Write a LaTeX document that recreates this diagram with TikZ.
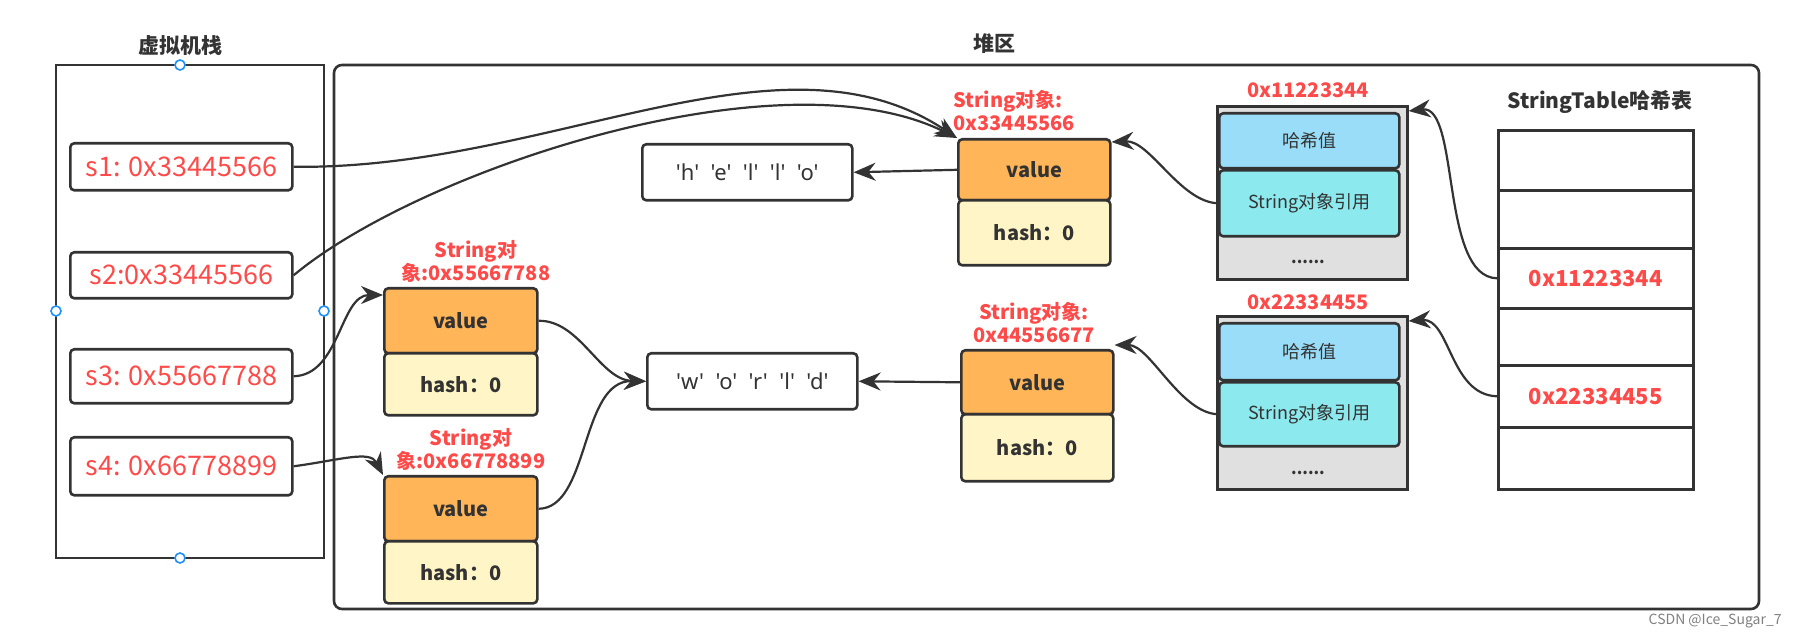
\documentclass[tikz,border=0pt]{standalone}
\usepackage{fontspec}
\setmainfont{Noto Sans CJK SC}
\newfontfamily\latinf{Noto Sans}
\usetikzlibrary{arrows.meta,positioning}
\definecolor{ink}{HTML}{333333}
\definecolor{redtxt}{HTML}{FF4A4A}
\definecolor{orangef}{HTML}{FFB558}
\definecolor{yellowf}{HTML}{FFF5C6}
\definecolor{bluef}{HTML}{99DDF8}
\definecolor{cyanf}{HTML}{8CE9EE}
\definecolor{grayf}{HTML}{E0E0E0}
\definecolor{handle}{HTML}{1E90FF}
\newcommand{\qc}[1]{\char39 #1\char39}
\tikzset{
  box/.style={draw=ink, line width=1.3pt, rounded corners=2pt, inner sep=0pt, anchor=north west},
  sval/.style={box, fill=white, text=redtxt, font=\fontsize{13.5}{15}\selectfont},
  cell/.style={box, font=\fontsize{10}{12}\selectfont\bfseries, text=ink},
  arrbox/.style={box, fill=white, text=ink, minimum width=105pt, minimum height=28pt, font=\latinf\fontsize{11}{13}\selectfont},
  lbl/.style={text=redtxt, font=\fontsize{10}{11.5}\selectfont\bfseries, inner sep=0pt, align=center},
  ttl/.style={text=ink, font=\fontsize{10.5}{12}\selectfont\bfseries, inner sep=0pt},
  arr/.style={draw=ink, line width=1.1pt, -{Stealth[length=11pt,width=9pt]}},
  hnd/.style={circle, draw=handle, fill=white, line width=0.8pt, minimum size=5pt, inner sep=0pt}
}
\begin{document}
\begin{tikzpicture}[x=0.5pt,y=-0.5pt]
\useasboundingbox (0,0) rectangle (1798,640);
% stack and heap frames
\draw[ink, line width=1.3pt] (56,65) rectangle (324,558);
\draw[ink, line width=1.3pt, rounded corners=4pt] (334,65) rectangle (1759,609);
\node[ttl] (tstack) at (180,46) {虚拟机栈};
\node[ttl] (theap) at (994,44) {堆区};
% stack slots
\node[sval, minimum width=111pt, minimum height=23.5pt] (s1) at (69,142) {s1: 0x33445566};
\node[sval, minimum width=111pt, minimum height=23pt] (s2) at (69,251) {s2:0x33445566};
\node[sval, minimum width=111pt, minimum height=27pt] (s3) at (69,348) {s3: 0x55667788};
\node[sval, minimum width=111pt, minimum height=29pt] (s4) at (69,436) {s4: 0x66778899};
% char arrays
\node[arrbox] (hello) at (641,143) {\qc{h}\ \ \qc{e}\ \ \qc{l}\ \ \qc{l}\ \ \qc{o}};
\node[arrbox] (world) at (646,352) {\qc{w}\ \ \qc{o}\ \ \qc{r}\ \ \qc{l}\ \ \qc{d}};
% string objects
\node[cell, fill=orangef, minimum width=76pt, minimum height=30.5pt] (v1) at (957,138) {value};
\node[cell, fill=yellowf, minimum width=76pt, minimum height=32.5pt] (h1) at (957,199) {hash：0};
\node[lbl, align=left, anchor=north west] (l1) at (953,90) {String对象:\\0x33445566};
\node[cell, fill=orangef, minimum width=76.5pt, minimum height=32.5pt] (v2) at (383,287) {value};
\node[cell, fill=yellowf, minimum width=76.5pt, minimum height=31pt] (h2) at (383,352) {hash：0};
\node[lbl] (l2) at (476,261) {String对\\象:0x55667788};
\node[cell, fill=orangef, minimum width=76.5pt, minimum height=32.5pt] (v3) at (383,475) {value};
\node[cell, fill=yellowf, minimum width=76.5pt, minimum height=31pt] (h3) at (383,540) {hash：0};
\node[lbl] (l3) at (471,449) {String对\\象:0x66778899};
\node[cell, fill=orangef, minimum width=76pt, minimum height=32pt] (v4) at (960,349) {value};
\node[cell, fill=yellowf, minimum width=76pt, minimum height=33.5pt] (h4) at (960,413) {hash：0};
\node[lbl] (l4) at (1034,323) {String对象:\\0x44556677};
% hash table entries
\node[box, fill=grayf, rounded corners=0pt, minimum width=95pt, minimum height=86.5pt] (e1) at (1216,105) {};
\node[cell, fill=bluef, minimum width=90pt, minimum height=27.5pt, font=\fontsize{9}{10}\selectfont] (k1) at (1218,112) {哈希值};
\node[cell, fill=cyanf, minimum width=90pt, minimum height=33pt, font=\fontsize{9}{10}\selectfont] (r1) at (1218,169) {String对象引用};
\node[text=ink, font=\fontsize{8}{9}\selectfont\bfseries, inner sep=0pt] (d1) at (1308,262) {......};
\node[lbl] (a1) at (1308,90) {0x11223344};
\node[box, fill=grayf, rounded corners=0pt, minimum width=95pt, minimum height=86.5pt] (e2) at (1216,315) {};
\node[cell, fill=bluef, minimum width=90pt, minimum height=28.5pt, font=\fontsize{9}{10}\selectfont] (k2) at (1218,322) {哈希值};
\node[cell, fill=cyanf, minimum width=90pt, minimum height=32pt, font=\fontsize{9}{10}\selectfont] (r2) at (1218,381) {String对象引用};
\node[text=ink, font=\fontsize{8}{9}\selectfont\bfseries, inner sep=0pt] (d2) at (1308,473) {......};
\node[lbl] (a2) at (1308,302) {0x22334455};
% string table
\node[ttl] (ttab) at (1600,102) {StringTable哈希表};
\node[box, rounded corners=0pt, fill=white, minimum width=97.5pt, minimum height=30pt] (t1) at (1497,129) {};
\node[box, rounded corners=0pt, fill=white, minimum width=97.5pt, minimum height=29pt] (t2) at (1497,189) {};
\node[box, rounded corners=0pt, fill=white, minimum width=97.5pt, minimum height=30pt, text=redtxt, font=\fontsize{11}{12}\selectfont\bfseries] (t3) at (1497,247) {0x11223344};
\node[box, rounded corners=0pt, fill=white, minimum width=97.5pt, minimum height=28.5pt] (t4) at (1497,307) {};
\node[box, rounded corners=0pt, fill=white, minimum width=97.5pt, minimum height=31pt, text=redtxt, font=\fontsize{11}{12}\selectfont\bfseries] (t5) at (1497,364) {0x22334455};
\node[box, rounded corners=0pt, fill=white, minimum width=97.5pt, minimum height=31pt] (t6) at (1497,426) {};
% references
\draw[arr] (s1.east) .. controls (550,170) and (780,20) .. (v1.north west);
\draw[arr] (s2.east) .. controls (420,170) and (780,50) .. (v1.north west);
\draw[arr] (s3.east) .. controls (340,375) and (340,295) .. ([yshift=-4pt]v2.north west);
\draw[arr] (s4.east) .. controls (340,460) and (370,450) .. (v3.north west);
\draw[arr] (v2.east) .. controls (580,320) and (600,380) .. (world.west);
\draw[arr] (v3.east) .. controls (590,508) and (580,380) .. (world.west);
\draw[arr] (v1.west) -- (hello.east);
\draw[arr] (v4.west) -- (world.east);
\draw[arr] (r1.west) .. controls (1180,202) and (1150,140) .. ([yshift=-2pt]v1.north east);
\draw[arr] (r2.west) .. controls (1180,413) and (1150,345) .. ([yshift=2pt]v4.north east);
\draw[arr] (t3.west) .. controls (1440,277) and (1460,105) .. ([yshift=-3pt]e1.north east);
\draw[arr] (t5.west) .. controls (1450,395) and (1450,318) .. ([yshift=-3pt]e2.north east);
% selection handles
\node[hnd] (hn) at (180,65) {};
\node[hnd] (hw) at (56,311) {};
\node[hnd] (he) at (324,311) {};
\node[hnd] (hs) at (180,558) {};
\node[text=gray, font=\fontsize{7}{8}\selectfont, anchor=east, inner sep=0pt] (wm) at (1782,621) {CSDN @Ice\_Sugar\_7};
\end{tikzpicture}
\end{document}
